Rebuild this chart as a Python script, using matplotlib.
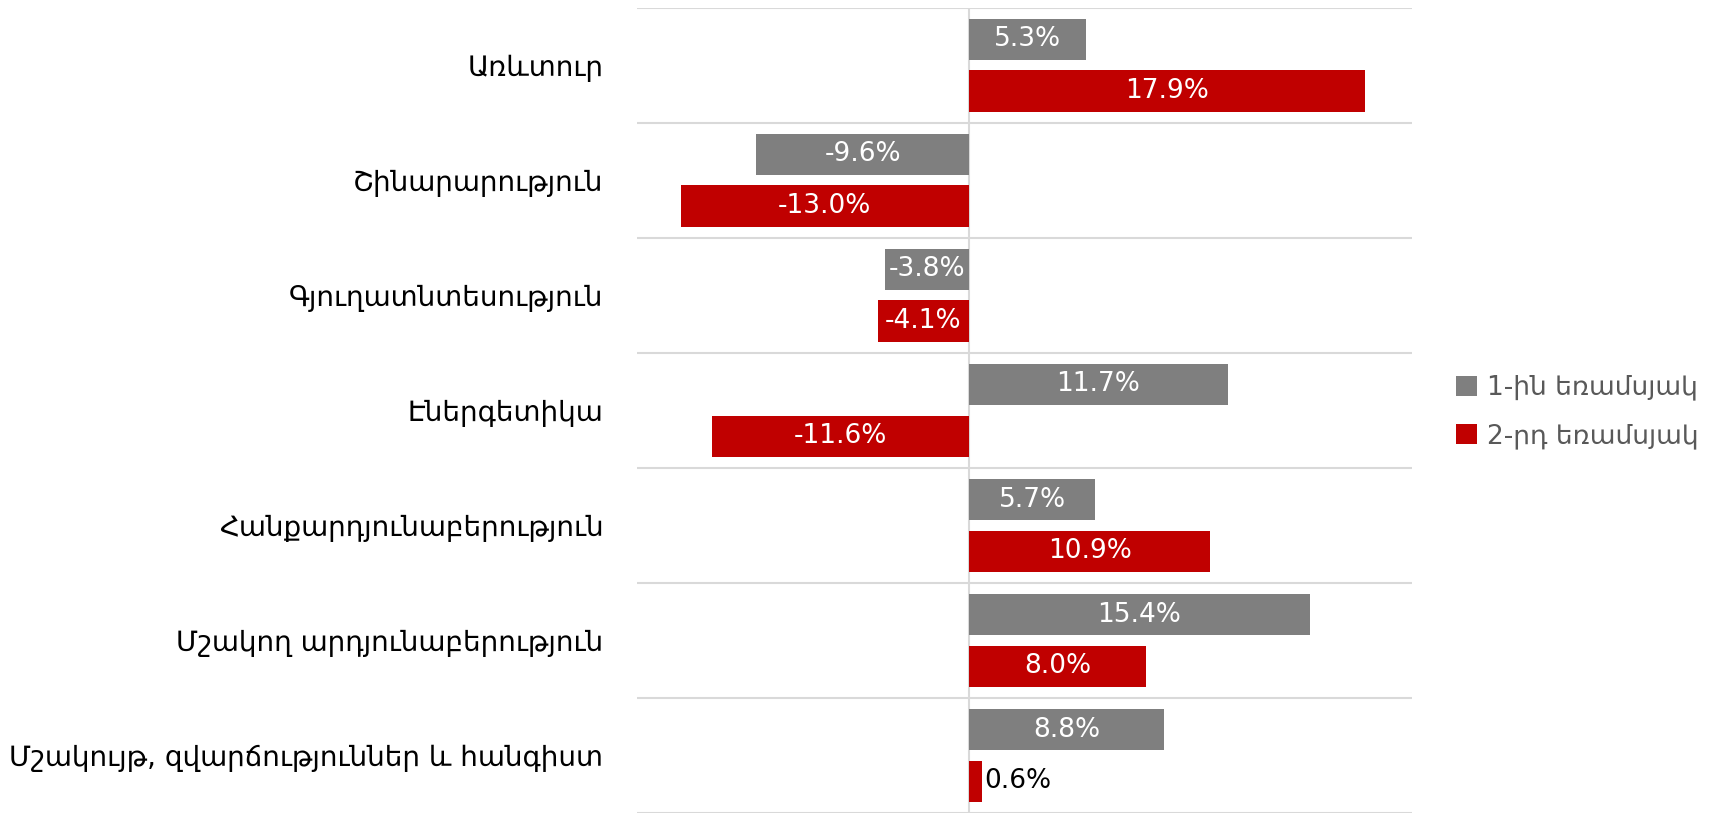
import matplotlib

matplotlib.use("Agg")
from matplotlib import pyplot as plt  # noqa: E402
from matplotlib.patches import Patch  # noqa: E402

categories = [
    "Առևտուր",
    "Շինարարություն",
    "Գյուղատնտեսություն",
    "Էներգետիկա",
    "Հանքարդյունաբերություն",
    "Մշակող արդյունաբերություն",
    "Մշակույթ, զվարճություններ և հանգիստ",
]
q1_values = [5.3, -9.6, -3.8, 11.7, 5.7, 15.4, 8.8]
q2_values = [17.9, -13.0, -4.1, -11.6, 10.9, 8.0, 0.6]
series_names = ["1-ին եռամսյակ", "2-րդ եռամսյակ"]

GREY = "#7f7f7f"
RED = "#c00000"
GRID = "#d9d9d9"

plt.rcParams["font.family"] = ["DejaVu Sans"]

fig = plt.figure(figsize=(17.27, 8.13), dpi=100)
ax = fig.add_axes((636.6 / 1727, 0.0, (1412 - 636.6) / 1727, 1 - 7.7 / 813))

bar_h = 0.36
offset = 0.225
y = list(range(len(categories)))

for values, color, shift in ((q1_values, GREY, -offset), (q2_values, RED, offset)):
    pos = [i + shift for i in y]
    bars = ax.barh(pos, values, height=bar_h, color=color, zorder=3)
    for bar, p, v in zip(bars, pos, values):
        label = f"{v:.1f}%"
        if abs(v) < 2:
            ax.text(v + 0.1, p, label, ha="left", va="center",
                    fontsize=19, color="black", zorder=4)
        else:
            t = ax.text(v / 2, p, label, ha="center", va="center",
                        fontsize=19, color="white", zorder=4)
            t.set_clip_path(bar)

ax.set_xlim(-15, 20)
ax.set_ylim(len(categories) - 0.5, -0.5)
ax.set_xticks([])
ax.set_yticks(y, labels=categories)
ax.set_yticks([i - 0.5 for i in range(len(categories) + 1)], minor=True)
ax.tick_params(axis="y", which="both", length=0, pad=24, labelsize=20)
ax.grid(axis="y", which="minor", color=GRID, linewidth=1.5, zorder=0)
ax.axvline(0, color=GRID, linewidth=1.5, zorder=1)
for side in ("top", "bottom", "left", "right"):
    ax.spines[side].set_visible(False)

handles = [Patch(facecolor=GREY), Patch(facecolor=RED)]
fig.legend(
    handles,
    series_names,
    loc="center left",
    bbox_to_anchor=(1432 / 1727, 1 - 412 / 813),
    frameon=False,
    fontsize=19,
    labelcolor="#595959",
    handlelength=0.8,
    handleheight=0.8,
    handletextpad=0.4,
    labelspacing=0.85,
)

fig.savefig("out.png", dpi=100)
